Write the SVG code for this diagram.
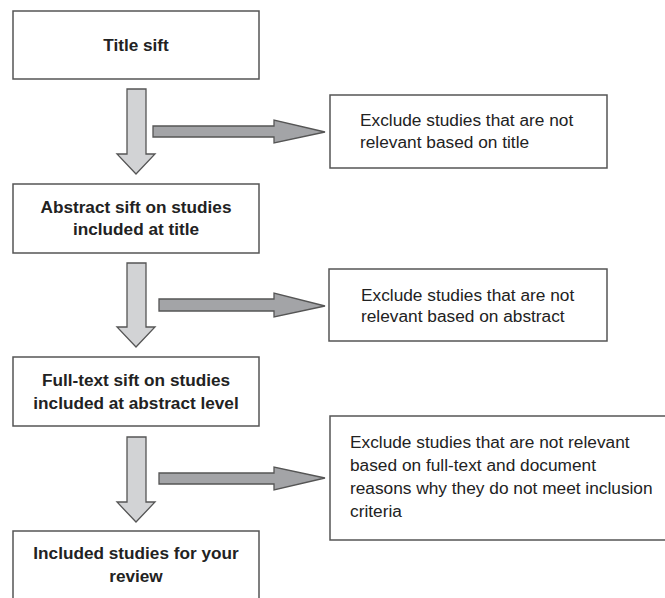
<svg xmlns="http://www.w3.org/2000/svg" width="665" height="598" viewBox="0 0 665 598">
<style>
.box{fill:#fff;stroke:#555;stroke-width:1.5}
.down{fill:#d2d3d5;stroke:#555;stroke-width:1.3;stroke-linejoin:miter}
.right{fill:#a3a4a7;stroke:#555;stroke-width:1.3;stroke-linejoin:miter}
.b{font-family:"Liberation Sans",Arial,sans-serif;font-weight:bold;font-size:17.2px;fill:#222;text-anchor:middle}
.t{font-family:"Liberation Sans",Arial,sans-serif;font-size:17.3px;fill:#222}
</style>
<rect width="665" height="598" fill="#fff"/>
<g id="n1"><rect class="box" x="13" y="11" width="246" height="68"/><text class="b" x="136" y="51">Title sift</text></g>
<g id="n2"><rect class="box" x="13" y="184" width="246" height="69"/><text class="b" x="136" y="213">Abstract sift on studies</text><text class="b" x="136" y="235">included at title</text></g>
<g id="n3"><rect class="box" x="13" y="357" width="246" height="69"/><text class="b" x="136" y="386">Full-text sift on studies</text><text class="b" x="136" y="409">included at abstract level</text></g>
<g id="n4"><rect class="box" x="13" y="531" width="246" height="80"/><text class="b" x="136" y="559">Included studies for your</text><text class="b" x="136" y="582">review</text></g>
<g id="e1"><rect class="box" x="330" y="95" width="277" height="73"/><text class="t" x="360" y="126">Exclude studies that are not</text><text class="t" x="360" y="148">relevant based on title</text></g>
<g id="e2"><rect class="box" x="329" y="269" width="278" height="72"/><text class="t" x="361" y="301">Exclude studies that are not</text><text class="t" x="361" y="322">relevant based on abstract</text></g>
<g id="e3"><rect class="box" x="330" y="416" width="345" height="124"/><text class="t" x="350" y="448">Exclude studies that are not relevant</text><text class="t" x="350" y="471">based on full-text and document</text><text class="t" x="350" y="494">reasons why they do not meet inclusion</text><text class="t" x="350" y="517">criteria</text></g>
<g id="connectors">
<polygon class="down" points="127,89 146,89 146,154 155,154 136,174 117,154 127,154"/>
<polygon class="right" points="153,126 274,126 274,120 325,132 274,143 274,137 153,137"/>
<polygon class="down" points="127,263 146,263 146,327 155,327 136,347 117,327 127,327"/>
<polygon class="right" points="159,299 274,299 274,293 325,306 274,317 274,311 159,311"/>
<polygon class="down" points="127,437 146,437 146,502 155,502 136,522 117,502 127,502"/>
<polygon class="right" points="159,473 274,473 274,467 325,478 274,490 274,484 159,484"/>
</g>
</svg>
